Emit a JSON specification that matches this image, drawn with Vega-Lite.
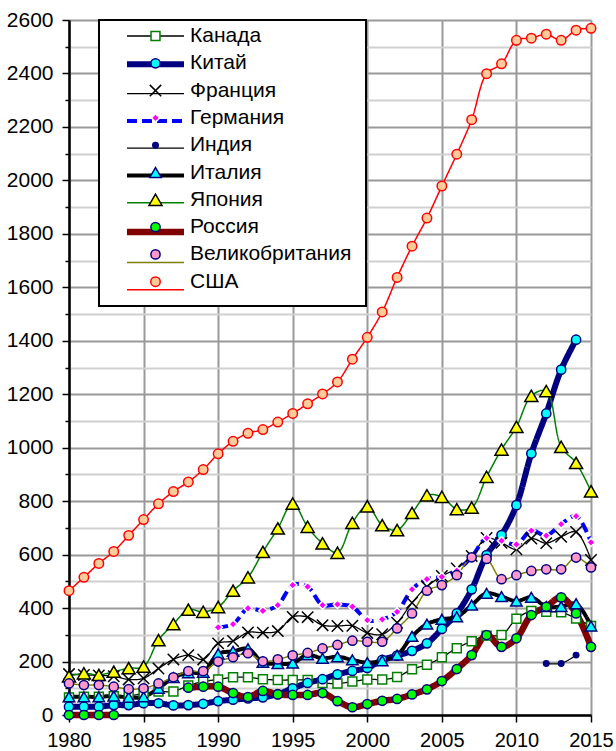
{
  "$schema": "https://vega.github.io/schema/vega-lite/v6.json",
  "width": 522,
  "height": 695,
  "autosize": "none",
  "padding": {"left": 69, "top": 20, "right": 25, "bottom": 36},
  "config": {"view": {"stroke": null}, "font": "Liberation Sans", "legend": {"strokeWidth": 2}},
  "data": {"values": [
    {"country":"Канада","year":1980,"value":66},{"country":"Канада","year":1981,"value":68},{"country":"Канада","year":1982,"value":68},{"country":"Канада","year":1983,"value":70},{"country":"Канада","year":1984,"value":72},{"country":"Канада","year":1985,"value":80},{"country":"Канада","year":1986,"value":88},{"country":"Канада","year":1987,"value":88},{"country":"Канада","year":1988,"value":110},{"country":"Канада","year":1989,"value":125},{"country":"Канада","year":1990,"value":133},{"country":"Канада","year":1991,"value":141},{"country":"Канада","year":1992,"value":141},{"country":"Канада","year":1993,"value":134},{"country":"Канада","year":1994,"value":131},{"country":"Канада","year":1995,"value":131},{"country":"Канада","year":1996,"value":131},{"country":"Канада","year":1997,"value":120},{"country":"Канада","year":1998,"value":118},{"country":"Канада","year":1999,"value":125},{"country":"Канада","year":2000,"value":133},{"country":"Канада","year":2001,"value":133},{"country":"Канада","year":2002,"value":142},{"country":"Канада","year":2003,"value":171},{"country":"Канада","year":2004,"value":188},{"country":"Канада","year":2005,"value":216},{"country":"Канада","year":2006,"value":250},{"country":"Канада","year":2007,"value":276},{"country":"Канада","year":2008,"value":297},{"country":"Канада","year":2009,"value":299},{"country":"Канада","year":2010,"value":360},{"country":"Канада","year":2011,"value":389},{"country":"Канада","year":2012,"value":386},{"country":"Канада","year":2013,"value":384},{"country":"Канада","year":2014,"value":361},{"country":"Канада","year":2015,"value":333},
    {"country":"Китай","year":1980,"value":31},{"country":"Китай","year":1981,"value":31},{"country":"Китай","year":1982,"value":31},{"country":"Китай","year":1983,"value":37},{"country":"Китай","year":1984,"value":37},{"country":"Китай","year":1985,"value":44},{"country":"Китай","year":1986,"value":44},{"country":"Китай","year":1987,"value":36},{"country":"Китай","year":1988,"value":37},{"country":"Китай","year":1989,"value":42},{"country":"Китай","year":1990,"value":52},{"country":"Китай","year":1991,"value":57},{"country":"Китай","year":1992,"value":62},{"country":"Китай","year":1993,"value":66},{"country":"Китай","year":1994,"value":78},{"country":"Китай","year":1995,"value":100},{"country":"Китай","year":1996,"value":120},{"country":"Китай","year":1997,"value":134},{"country":"Китай","year":1998,"value":152},{"country":"Китай","year":1999,"value":165},{"country":"Китай","year":2000,"value":176},{"country":"Китай","year":2001,"value":206},{"country":"Китай","year":2002,"value":222},{"country":"Китай","year":2003,"value":240},{"country":"Китай","year":2004,"value":268},{"country":"Китай","year":2005,"value":322},{"country":"Китай","year":2006,"value":380},{"country":"Китай","year":2007,"value":470},{"country":"Китай","year":2008,"value":598},{"country":"Китай","year":2009,"value":673},{"country":"Китай","year":2010,"value":785},{"country":"Китай","year":2011,"value":978},{"country":"Китай","year":2012,"value":1128},{"country":"Китай","year":2013,"value":1292},{"country":"Китай","year":2014,"value":1404},
    {"country":"Франция","year":1980,"value":153},{"country":"Франция","year":1981,"value":150},{"country":"Франция","year":1982,"value":148},{"country":"Франция","year":1983,"value":145},{"country":"Франция","year":1984,"value":133},{"country":"Франция","year":1985,"value":137},{"country":"Франция","year":1986,"value":174},{"country":"Франция","year":1987,"value":208},{"country":"Франция","year":1988,"value":224},{"country":"Франция","year":1989,"value":208},{"country":"Франция","year":1990,"value":268},{"country":"Франция","year":1991,"value":277},{"country":"Франция","year":1992,"value":309},{"country":"Франция","year":1993,"value":308},{"country":"Франция","year":1994,"value":314},{"country":"Франция","year":1995,"value":367},{"country":"Франция","year":1996,"value":366},{"country":"Франция","year":1997,"value":336},{"country":"Франция","year":1998,"value":333},{"country":"Франция","year":1999,"value":334},{"country":"Франция","year":2000,"value":307},{"country":"Франция","year":2001,"value":302},{"country":"Франция","year":2002,"value":345},{"country":"Франция","year":2003,"value":420},{"country":"Франция","year":2004,"value":480},{"country":"Франция","year":2005,"value":520},{"country":"Франция","year":2006,"value":548},{"country":"Франция","year":2007,"value":595},{"country":"Франция","year":2008,"value":662},{"country":"Франция","year":2009,"value":644},{"country":"Франция","year":2010,"value":620},{"country":"Франция","year":2011,"value":660},{"country":"Франция","year":2012,"value":643},{"country":"Франция","year":2013,"value":667},{"country":"Франция","year":2014,"value":685},{"country":"Франция","year":2015,"value":580},
    {"country":"Германия","year":1990,"value":328},{"country":"Германия","year":1991,"value":340},{"country":"Германия","year":1992,"value":399},{"country":"Германия","year":1993,"value":390},{"country":"Германия","year":1994,"value":411},{"country":"Германия","year":1995,"value":486},{"country":"Германия","year":1996,"value":480},{"country":"Германия","year":1997,"value":411},{"country":"Германия","year":1998,"value":414},{"country":"Германия","year":1999,"value":405},{"country":"Германия","year":2000,"value":355},{"country":"Германия","year":2001,"value":358},{"country":"Германия","year":2002,"value":386},{"country":"Германия","year":2003,"value":470},{"country":"Германия","year":2004,"value":508},{"country":"Германия","year":2005,"value":517},{"country":"Германия","year":2006,"value":540},{"country":"Германия","year":2007,"value":592},{"country":"Германия","year":2008,"value":662},{"country":"Германия","year":2009,"value":652},{"country":"Германия","year":2010,"value":638},{"country":"Германия","year":2011,"value":690},{"country":"Германия","year":2012,"value":671},{"country":"Германия","year":2013,"value":714},{"country":"Германия","year":2014,"value":744},{"country":"Германия","year":2015,"value":646},
    {"country":"Индия","year":2012,"value":193},{"country":"Индия","year":2013,"value":193},{"country":"Индия","year":2014,"value":224},
    {"country":"Италия","year":1980,"value":68},{"country":"Италия","year":1981,"value":68},{"country":"Италия","year":1982,"value":68},{"country":"Италия","year":1983,"value":71},{"country":"Италия","year":1984,"value":66},{"country":"Италия","year":1985,"value":68},{"country":"Италия","year":1986,"value":100},{"country":"Италия","year":1987,"value":140},{"country":"Италия","year":1988,"value":158},{"country":"Италия","year":1989,"value":160},{"country":"Италия","year":1990,"value":229},{"country":"Италия","year":1991,"value":238},{"country":"Италия","year":1992,"value":248},{"country":"Италия","year":1993,"value":197},{"country":"Италия","year":1994,"value":192},{"country":"Италия","year":1995,"value":194},{"country":"Италия","year":1996,"value":225},{"country":"Италия","year":1997,"value":212},{"country":"Италия","year":1998,"value":218},{"country":"Италия","year":1999,"value":206},{"country":"Италия","year":2000,"value":196},{"country":"Италия","year":2001,"value":203},{"country":"Италия","year":2002,"value":224},{"country":"Италия","year":2003,"value":294},{"country":"Италия","year":2004,"value":340},{"country":"Италия","year":2005,"value":358},{"country":"Италия","year":2006,"value":367},{"country":"Италия","year":2007,"value":411},{"country":"Италия","year":2008,"value":455},{"country":"Италия","year":2009,"value":443},{"country":"Италия","year":2010,"value":426},{"country":"Италия","year":2011,"value":440},{"country":"Италия","year":2012,"value":406},{"country":"Италия","year":2013,"value":406},{"country":"Италия","year":2014,"value":416},{"country":"Италия","year":2015,"value":333},
    {"country":"Япония","year":1980,"value":145},{"country":"Япония","year":1981,"value":156},{"country":"Япония","year":1982,"value":150},{"country":"Япония","year":1983,"value":162},{"country":"Япония","year":1984,"value":175},{"country":"Япония","year":1985,"value":181},{"country":"Япония","year":1986,"value":280},{"country":"Япония","year":1987,"value":340},{"country":"Япония","year":1988,"value":394},{"country":"Япония","year":1989,"value":386},{"country":"Япония","year":1990,"value":404},{"country":"Япония","year":1991,"value":465},{"country":"Япония","year":1992,"value":515},{"country":"Япония","year":1993,"value":610},{"country":"Япония","year":1994,"value":698},{"country":"Япония","year":1995,"value":791},{"country":"Япония","year":1996,"value":704},{"country":"Япония","year":1997,"value":642},{"country":"Япония","year":1998,"value":607},{"country":"Япония","year":1999,"value":719},{"country":"Япония","year":2000,"value":781},{"country":"Япония","year":2001,"value":710},{"country":"Япония","year":2002,"value":692},{"country":"Япония","year":2003,"value":756},{"country":"Япония","year":2004,"value":822},{"country":"Япония","year":2005,"value":816},{"country":"Япония","year":2006,"value":770},{"country":"Япония","year":2007,"value":776},{"country":"Япония","year":2008,"value":891},{"country":"Япония","year":2009,"value":993},{"country":"Япония","year":2010,"value":1078},{"country":"Япония","year":2011,"value":1194},{"country":"Япония","year":2012,"value":1212},{"country":"Япония","year":2013,"value":1003},{"country":"Япония","year":2014,"value":943},{"country":"Япония","year":2015,"value":837},
    {"country":"Россия","year":1980,"value":0},{"country":"Россия","year":1981,"value":0},{"country":"Россия","year":1982,"value":0},{"country":"Россия","year":1983,"value":0},{"country":"Россия","year":1984,"value":null},{"country":"Россия","year":1985,"value":null},{"country":"Россия","year":1986,"value":null},{"country":"Россия","year":1987,"value":null},{"country":"Россия","year":1988,"value":102},{"country":"Россия","year":1989,"value":106},{"country":"Россия","year":1990,"value":106},{"country":"Россия","year":1991,"value":82},{"country":"Россия","year":1992,"value":67},{"country":"Россия","year":1993,"value":90},{"country":"Россия","year":1994,"value":77},{"country":"Россия","year":1995,"value":75},{"country":"Россия","year":1996,"value":75},{"country":"Россия","year":1997,"value":82},{"country":"Россия","year":1998,"value":52},{"country":"Россия","year":1999,"value":29},{"country":"Россия","year":2000,"value":41},{"country":"Россия","year":2001,"value":53},{"country":"Россия","year":2002,"value":60},{"country":"Россия","year":2003,"value":77},{"country":"Россия","year":2004,"value":96},{"country":"Россия","year":2005,"value":127},{"country":"Россия","year":2006,"value":172},{"country":"Россия","year":2007,"value":224},{"country":"Россия","year":2008,"value":299},{"country":"Россия","year":2009,"value":255},{"country":"Россия","year":2010,"value":287},{"country":"Россия","year":2011,"value":374},{"country":"Россия","year":2012,"value":405},{"country":"Россия","year":2013,"value":440},{"country":"Россия","year":2014,"value":380},{"country":"Россия","year":2015,"value":255},
    {"country":"Великобритания","year":1980,"value":118},{"country":"Великобритания","year":1981,"value":112},{"country":"Великобритания","year":1982,"value":112},{"country":"Великобритания","year":1983,"value":106},{"country":"Великобритания","year":1984,"value":97},{"country":"Великобритания","year":1985,"value":100},{"country":"Великобритания","year":1986,"value":118},{"country":"Великобритания","year":1987,"value":141},{"country":"Великобритания","year":1988,"value":164},{"country":"Великобритания","year":1989,"value":164},{"country":"Великобритания","year":1990,"value":200},{"country":"Великобритания","year":1991,"value":216},{"country":"Великобритания","year":1992,"value":231},{"country":"Великобритания","year":1993,"value":201},{"country":"Великобритания","year":1994,"value":208},{"country":"Великобритания","year":1995,"value":223},{"country":"Великобритания","year":1996,"value":232},{"country":"Великобритания","year":1997,"value":249},{"country":"Великобритания","year":1998,"value":262},{"country":"Великобритания","year":1999,"value":278},{"country":"Великобритания","year":2000,"value":274},{"country":"Великобритания","year":2001,"value":274},{"country":"Великобритания","year":2002,"value":324},{"country":"Великобритания","year":2003,"value":380},{"country":"Великобритания","year":2004,"value":465},{"country":"Великобритания","year":2005,"value":486},{"country":"Великобритания","year":2006,"value":523},{"country":"Великобритания","year":2007,"value":590},{"country":"Великобритания","year":2008,"value":584},{"country":"Великобритания","year":2009,"value":508},{"country":"Великобритания","year":2010,"value":523},{"country":"Великобритания","year":2011,"value":539},{"country":"Великобритания","year":2012,"value":545},{"country":"Великобритания","year":2013,"value":545},{"country":"Великобритания","year":2014,"value":589},{"country":"Великобритания","year":2015,"value":552},
    {"country":"США","year":1980,"value":465},{"country":"США","year":1981,"value":515},{"country":"США","year":1982,"value":567},{"country":"США","year":1983,"value":612},{"country":"США","year":1984,"value":672},{"country":"США","year":1985,"value":731},{"country":"США","year":1986,"value":790},{"country":"США","year":1987,"value":836},{"country":"США","year":1988,"value":872},{"country":"США","year":1989,"value":918},{"country":"США","year":1990,"value":977},{"country":"США","year":1991,"value":1024},{"country":"США","year":1992,"value":1054},{"country":"США","year":1993,"value":1068},{"country":"США","year":1994,"value":1096},{"country":"США","year":1995,"value":1128},{"country":"США","year":1996,"value":1164},{"country":"США","year":1997,"value":1201},{"country":"США","year":1998,"value":1246},{"country":"США","year":1999,"value":1331},{"country":"США","year":2000,"value":1413},{"country":"США","year":2001,"value":1508},{"country":"США","year":2002,"value":1637},{"country":"США","year":2003,"value":1754},{"country":"США","year":2004,"value":1859},{"country":"США","year":2005,"value":1979},{"country":"США","year":2006,"value":2098},{"country":"США","year":2007,"value":2227},{"country":"США","year":2008,"value":2399},{"country":"США","year":2009,"value":2436},{"country":"США","year":2010,"value":2524},{"country":"США","year":2011,"value":2532},{"country":"США","year":2012,"value":2547},{"country":"США","year":2013,"value":2524},{"country":"США","year":2014,"value":2562},{"country":"США","year":2015,"value":2569}
  ]},
  "encoding": {
    "x": {"field": "year", "type": "quantitative",
      "scale": {"domain": [1980, 2015], "nice": false, "zero": false},
      "axis": {"title": null, "values": [1980, 1985, 1990, 1995, 2000, 2005, 2010, 2015], "format": "d",
        "labelFontSize": 20, "labelFont": "Liberation Sans", "labelColor": "black", "labelPadding": 8,
        "labelFlush": false, "labelOverlap": false,
        "tickSize": 7, "tickColor": "black", "tickWidth": 1.5,
        "domainColor": "black", "domainWidth": 2.5,
        "grid": true, "gridColor": "#999999", "gridWidth": 2}},
    "y": {"field": "value", "type": "quantitative",
      "scale": {"domain": [0, 2600], "nice": false},
      "axis": {"title": null,
        "values": [0,100,200,300,400,500,600,700,800,900,1000,1100,1200,1300,1400,1500,1600,1700,1800,1900,2000,2100,2200,2300,2400,2500,2600],
        "format": "d",
        "labelExpr": "datum.value % 200 === 0 ? datum.label : ''",
        "labelFontSize": 21, "labelFont": "Liberation Sans", "labelColor": "black", "labelPadding": 9,
        "labelFlush": false, "labelOverlap": false,
        "tickSize": {"condition": {"test": "datum.value % 200 === 0", "value": 7}, "value": 4},
        "tickColor": "black", "tickWidth": 1.5,
        "domainColor": "black", "domainWidth": 2.5,
        "grid": true,
        "gridColor": {"condition": {"test": "datum.value % 200 === 0", "value": "#999999"}, "value": "#d0d0d0"},
        "gridWidth": 2}}
  },
  "layer": [
    {
      "mark": {"type": "line", "interpolate": "catmull-rom", "invalid": "break-paths-show-domains"},
      "encoding": {
        "stroke": {"field": "country", "type": "nominal",
          "scale": {"domain": ["Канада","Китай","Франция","Германия","Индия","Италия","Япония","Россия","Великобритания","США"],
                    "range": ["#000000","#000080","#000000","#0000FF","#000000","#000000","#008000","#800000","#808000","#FF0000"]},
          "legend": {"title": null, "orient": "none", "legendX": 30, "legendY": 0, "direction": "vertical", "padding": 5.5,
            "fillColor": "white", "strokeColor": "black",
            "symbolType": "M-5.7,0H5.7", "symbolSize": 100, "symbolOffset": 40.5, "labelOffset": 194.5, "rowPadding": 5.3,
            "labelFontSize": 21, "labelFont": "Liberation Sans", "labelColor": "transparent", "labelLimit": 500,
            "labelExpr": "'\u00a0'"}},
        "strokeWidth": {"field": "country", "type": "nominal",
          "scale": {"type": "ordinal", "domain": ["Канада","Китай","Франция","Германия","Индия","Италия","Япония","Россия","Великобритания","США"],
                    "range": [1.3, 6, 1.3, 4, 1.3, 4, 1.5, 6.5, 1.5, 1.5]},
          "legend": {"title": null, "orient": "none", "legendX": 30, "legendY": 0, "direction": "vertical", "padding": 5.5,
            "fillColor": "white", "strokeColor": "black",
            "symbolType": "M-5.7,0H5.7", "symbolSize": 100, "symbolOffset": 40.5, "labelOffset": 194.5, "rowPadding": 5.3,
            "labelFontSize": 21, "labelFont": "Liberation Sans", "labelColor": "transparent", "labelLimit": 500,
            "labelExpr": "'\u00a0'"}},
        "strokeDash": {"field": "country", "type": "nominal",
          "scale": {"domain": ["Канада","Китай","Франция","Германия","Индия","Италия","Япония","Россия","Великобритания","США"],
                    "range": [[1,0],[1,0],[1,0],[10,5],[1,0],[1,0],[1,0],[1,0],[1,0],[1,0]]},
          "legend": {"title": null, "orient": "none", "legendX": 30, "legendY": 0, "direction": "vertical", "padding": 5.5,
            "fillColor": "white", "strokeColor": "black",
            "symbolType": "M-5.7,0H5.7", "symbolSize": 100, "symbolOffset": 40.5, "labelOffset": 194.5, "rowPadding": 5.3,
            "labelFontSize": 21, "labelFont": "Liberation Sans", "labelColor": "transparent", "labelLimit": 500,
            "labelExpr": "'\u00a0'"}}
      }
    },
    {
      "mark": {"type": "point", "filled": true, "opacity": 1, "strokeWidth": 1.5},
      "encoding": {
        "shape": {"field": "country", "type": "nominal",
          "scale": {"domain": ["Канада","Китай","Франция","Германия","Индия","Италия","Япония","Россия","Великобритания","США"],
                    "range": ["square","circle","M-1,-1L1,1M-1,1L1,-1","diamond","circle","triangle-up","triangle-up","circle","circle","circle"]},
          "legend": {"title": null, "orient": "none", "legendX": 35.5, "legendY": 5.5, "direction": "vertical", "padding": 0,
            "symbolOffset": 40.5, "labelOffset": 24, "rowPadding": 5.3, "symbolStrokeWidth": 1.5,
            "labelFontSize": 21, "labelFont": "Liberation Sans", "labelColor": "black", "labelLimit": 500}},
        "fill": {"field": "country", "type": "nominal",
          "scale": {"domain": ["Канада","Китай","Франция","Германия","Индия","Италия","Япония","Россия","Великобритания","США"],
                    "range": ["#FFFFFF","#00FFFF","transparent","#FF00FF","#000080","#00FFFF","#FFFF00","#00FF00","#FF99CC","#FFCC99"]},
          "legend": {"title": null, "orient": "none", "legendX": 35.5, "legendY": 5.5, "direction": "vertical", "padding": 0,
            "symbolOffset": 40.5, "labelOffset": 24, "rowPadding": 5.3, "symbolStrokeWidth": 1.5,
            "labelFontSize": 21, "labelFont": "Liberation Sans", "labelColor": "black", "labelLimit": 500}},
        "stroke": {"field": "country", "type": "nominal",
          "scale": {"domain": ["Канада","Китай","Франция","Германия","Индия","Италия","Япония","Россия","Великобритания","США"],
                    "range": ["#008000","#000080","#000000","#FFFFFF","#000080","#000080","#000000","#000080","#000080","#FF0000"]},
          "legend": {"title": null, "orient": "none", "legendX": 35.5, "legendY": 5.5, "direction": "vertical", "padding": 0,
            "symbolOffset": 40.5, "labelOffset": 24, "rowPadding": 5.3, "symbolStrokeWidth": 1.5,
            "labelFontSize": 21, "labelFont": "Liberation Sans", "labelColor": "black", "labelLimit": 500}},
        "size": {"field": "country", "type": "nominal",
          "scale": {"type": "ordinal", "domain": ["Канада","Китай","Франция","Германия","Индия","Италия","Япония","Россия","Великобритания","США"],
                    "range": [80, 85, 130, 70, 30, 130, 170, 85, 85, 90]},
          "legend": {"title": null, "orient": "none", "legendX": 35.5, "legendY": 5.5, "direction": "vertical", "padding": 0,
            "symbolOffset": 40.5, "labelOffset": 24, "rowPadding": 5.3, "symbolStrokeWidth": 1.5,
            "labelFontSize": 21, "labelFont": "Liberation Sans", "labelColor": "black", "labelLimit": 500}}
      }
    }
  ],
  "resolve": {
    "scale": {"stroke": "independent"},
    "legend": {"stroke": "independent", "strokeWidth": "independent", "strokeDash": "independent", "shape": "independent", "fill": "independent", "size": "independent"}
  }
}
